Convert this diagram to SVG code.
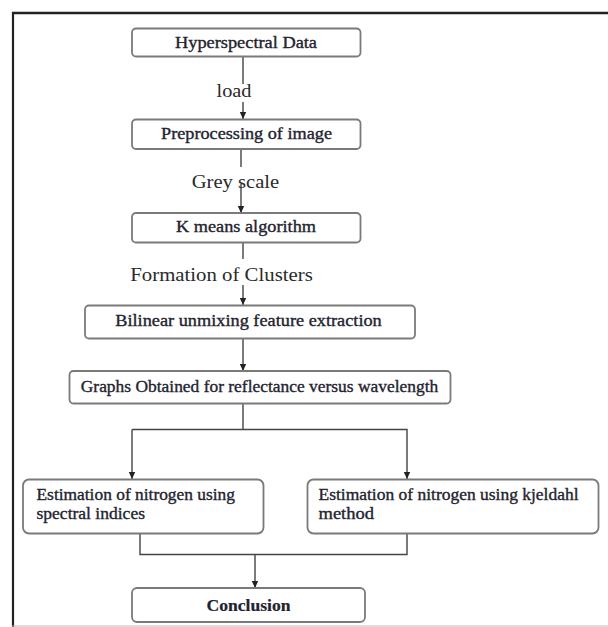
<svg xmlns="http://www.w3.org/2000/svg" width="608" height="627" viewBox="0 0 608 627">
<style>
.box{fill:#fff;stroke:#7a7a7a;stroke-width:1.8}
.t{font-family:"Liberation Serif","Times New Roman",serif;font-size:16.5px;fill:#23232f;stroke:#23232f;stroke-width:0.35}
.tc{text-anchor:middle}
.lbl{font-family:"Liberation Serif","Times New Roman",serif;font-size:18px;fill:#2a2a2a;text-anchor:middle}
.b{font-weight:bold;stroke-width:0.2}
.c{fill:none;stroke:#444;stroke-width:1.4}
</style>
<defs>
<marker id="ah" markerUnits="userSpaceOnUse" markerWidth="8" markerHeight="8" refX="7" refY="4" orient="auto">
<path d="M0,0.8 L7,4 L0,7.2 Z" fill="#222"/>
</marker>
</defs>
<rect width="608" height="627" fill="#fff"/>
<g id="frame">
<line x1="12" y1="13" x2="608" y2="13" stroke="#222" stroke-width="2.5"/>
<line x1="13" y1="12" x2="13" y2="627" stroke="#222" stroke-width="2.2"/>
<line x1="12" y1="626" x2="608" y2="626" stroke="#bbb" stroke-width="1"/>
</g>
<g id="connectors">
<line class="c" x1="243" y1="57" x2="243" y2="84"/>
<line class="c" x1="243" y1="102" x2="243" y2="119" marker-end="url(#ah)"/>
<line class="c" x1="241" y1="149" x2="241" y2="167"/>
<line class="c" x1="241" y1="184" x2="241" y2="213" marker-end="url(#ah)"/>
<line class="c" x1="243" y1="243" x2="243" y2="259"/>
<line class="c" x1="243" y1="285" x2="243" y2="305" marker-end="url(#ah)"/>
<line class="c" x1="243" y1="338" x2="243" y2="371" marker-end="url(#ah)"/>
<line class="c" x1="243" y1="403" x2="243" y2="429.5"/>
<polyline class="c" points="132,429.5 407,429.5 407,479" marker-end="url(#ah)"/>
<line class="c" x1="132" y1="429.5" x2="132" y2="479" marker-end="url(#ah)"/>
<polyline class="c" points="140,533 140,554.5 407,554.5 407,533"/>
<line class="c" x1="255" y1="554.5" x2="255" y2="588" marker-end="url(#ah)"/>
</g>
<g id="n1">
<rect class="box" x="132" y="28.5" width="228.5" height="28" rx="4"/>
<text class="t tc" x="246" y="47.5" textLength="142" lengthAdjust="spacingAndGlyphs">Hyperspectral Data</text>
</g>
<g id="l1"><text class="lbl" x="234" y="97" textLength="35" lengthAdjust="spacingAndGlyphs">load</text></g>
<g id="n2">
<rect class="box" x="132" y="119.5" width="228.5" height="29.5" rx="4"/>
<text class="t tc" x="246.5" y="138.5" textLength="171" lengthAdjust="spacingAndGlyphs">Preprocessing of image</text>
</g>
<g id="l2"><text class="lbl" x="235.5" y="188" textLength="87.5" lengthAdjust="spacingAndGlyphs">Grey scale</text></g>
<g id="n3">
<rect class="box" x="132" y="213" width="228.5" height="29.5" rx="4"/>
<text class="t tc" x="246" y="232" textLength="140" lengthAdjust="spacingAndGlyphs">K means algorithm</text>
</g>
<g id="l3"><text class="lbl" x="221.5" y="281" textLength="182.5" lengthAdjust="spacingAndGlyphs">Formation of Clusters</text></g>
<g id="n4">
<rect class="box" x="85" y="305.5" width="330" height="33" rx="4"/>
<text class="t tc" x="248.5" y="326" textLength="266.5" lengthAdjust="spacingAndGlyphs">Bilinear unmixing feature extraction</text>
</g>
<g id="n5">
<rect class="box" x="69.5" y="371" width="381" height="32.5" rx="4"/>
<text class="t tc" x="259.5" y="391.5" textLength="357.5" lengthAdjust="spacingAndGlyphs">Graphs Obtained for reflectance versus wavelength</text>
</g>
<g id="n6">
<rect class="box" x="23" y="479.5" width="240.5" height="54" rx="6"/>
<text class="t" x="36.5" y="500" textLength="198.5" lengthAdjust="spacingAndGlyphs">Estimation of nitrogen using</text>
<text class="t" x="36.5" y="519" textLength="108.5" lengthAdjust="spacingAndGlyphs">spectral indices</text>
</g>
<g id="n7">
<rect class="box" x="307.5" y="479.5" width="291" height="54" rx="6"/>
<text class="t" x="318.5" y="500" textLength="260" lengthAdjust="spacingAndGlyphs">Estimation of nitrogen using kjeldahl</text>
<text class="t" x="318.5" y="519" textLength="55.5" lengthAdjust="spacingAndGlyphs">method</text>
</g>
<g id="n8">
<rect class="box" x="132" y="588" width="233" height="34" rx="5"/>
<text class="t tc b" x="248.5" y="610.5" textLength="84" lengthAdjust="spacingAndGlyphs">Conclusion</text>
</g>
</svg>
